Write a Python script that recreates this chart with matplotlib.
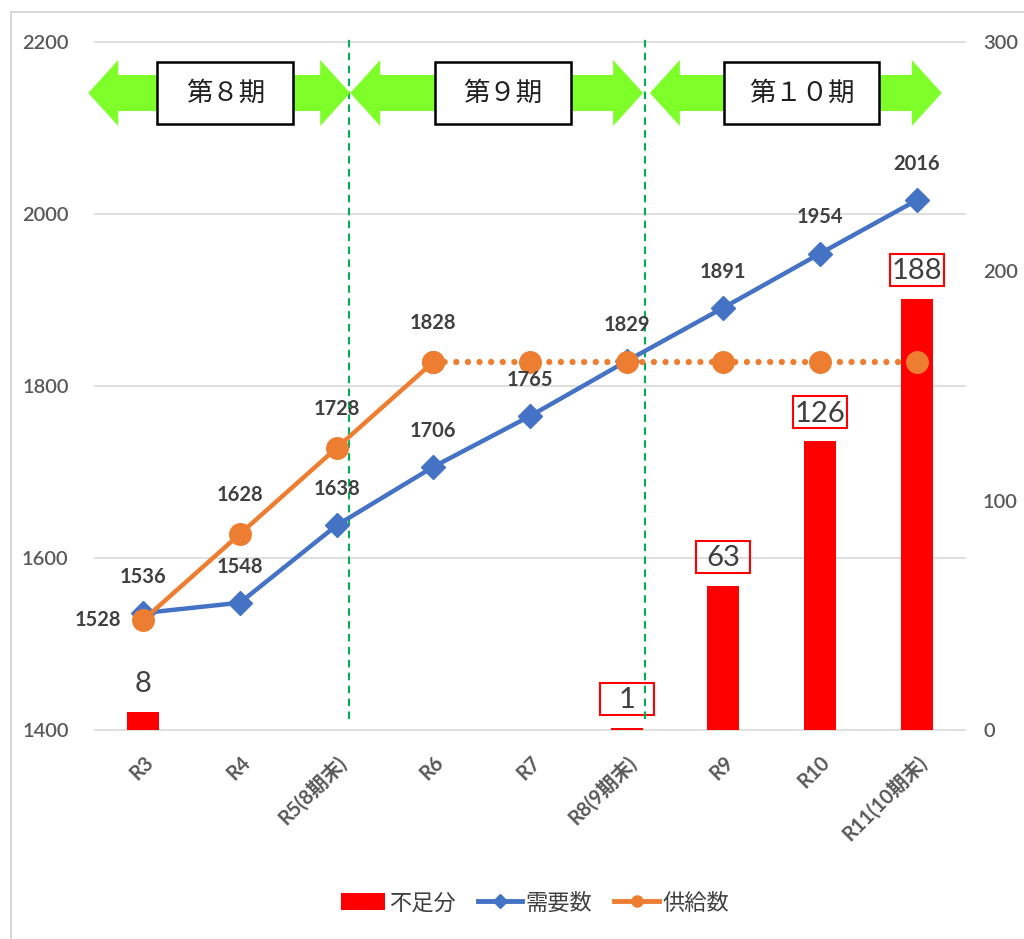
import matplotlib
matplotlib.use("Agg")
import matplotlib.pyplot as plt
import matplotlib.transforms as mtransforms
from matplotlib.patches import Polygon, Rectangle, Patch
from matplotlib.lines import Line2D

# ---- data ----
categories = ["R3", "R4", "R5(8期末)", "R6", "R7", "R8(9期末)", "R9", "R10", "R11(10期末)"]
demand = [1536, 1548, 1638, 1706, 1765, 1829, 1891, 1954, 2016]
supply = [1528, 1628, 1728, 1828, 1828, 1828, 1828, 1828, 1828]
shortage = [8, 0, 0, 0, 0, 1, 63, 126, 188]
shortage_boxed = [False, False, False, False, False, True, True, True, True]
supply_solid_n = 4          # first 4 points drawn solid, remaining dotted
supply_labeled_n = 4        # data labels on first 4 supply points
period_labels = ["第８期", "第９期", "第１０期"]
period_start = [-0.57, 2.14, 5.24]
period_end = [2.14, 5.17, 8.26]
period_dividers = [2.13, 5.19]
left_ticks = [1400, 1600, 1800, 2000, 2200]
right_ticks = [0, 100, 200, 300]

FONT = ["Lato", "Noto Sans CJK JP", "DejaVu Sans"]
CJK = ["Noto Sans CJK JP", "DejaVu Sans"]
plt.rcParams["font.family"] = FONT

BLUE = "#4472C4"
ORANGE = "#ED7D31"
RED = "#FF0000"
GREEN_ARROW = "#7FFF2A"
LABEL_C = "#404040"
TICK_C = "#595959"
GRID_C = "#D9D9D9"

W, H = 1024, 939
fig = plt.figure(figsize=(W / 100, H / 100), dpi=100)
ax = fig.add_axes([95 / W, 1 - 730 / H, 870 / W, 688 / H])
ax2 = ax.twinx()

x = list(range(len(categories)))
XMIN, XMAX = -0.5, len(categories) - 0.5

ax.set_xlim(XMIN, XMAX)
ax.set_ylim(1400, 2200)
ax.set_yticks(left_ticks)

# gridlines (primary-axis values) drawn underneath the bars
grid_tr = mtransforms.blended_transform_factory(ax2.transAxes, ax.transData)
for t in left_ticks:
    ax2.plot([0, 1], [t, t], transform=grid_tr, color=GRID_C, lw=1.2, zorder=0, clip_on=False)

# bars on secondary axis
ax2.bar(x, shortage, width=0.33, color=RED, zorder=2)
ax2.set_ylim(0, 300)
ax2.set_yticks(right_ticks)

ax.set_zorder(ax2.get_zorder() + 1)
ax.patch.set_visible(False)

# lines on primary axis
ax.plot(x, demand, color=BLUE, lw=3.2, marker="D", ms=12.5, zorder=4, solid_capstyle="round")
ax.plot(x[:supply_solid_n], supply[:supply_solid_n], color=ORANGE, lw=3.2, marker="o", ms=15.5, zorder=5)
ax.plot(x[supply_solid_n - 1:], supply[supply_solid_n - 1:], color=ORANGE, lw=4.5, ls=(0, (0.01, 1.85)),
        marker="o", ms=15.5, zorder=5, dash_capstyle="round")

for a in (ax, ax2):
    for s in a.spines.values():
        s.set_visible(False)
    a.tick_params(length=0)

ax.tick_params(axis="y", labelsize=14.5, labelcolor=TICK_C, pad=19)
ax2.tick_params(axis="y", labelsize=14.5, labelcolor=TICK_C, pad=13)
for lab in ax.get_yticklabels() + ax2.get_yticklabels():
    lab.set_fontweight("semibold")
ax.set_xticks(x)
ax.set_xticklabels(categories, rotation=45, ha="right", rotation_mode="anchor",
                   fontsize=14.5, fontweight="bold", color=TICK_C)
ax.tick_params(axis="x", pad=16)

# data labels: demand
for i, v in enumerate(demand):
    ax.annotate(str(v), (i, v), xytext=(0, 26), textcoords="offset points", ha="center", va="center",
                fontsize=14.5, fontweight="bold", color=LABEL_C, zorder=6)
# data labels: supply
for i in range(supply_labeled_n):
    v = supply[i]
    if i == 0:
        ax.annotate(str(v), (i, v), xytext=(-33, 0), textcoords="offset points", ha="center", va="center",
                    fontsize=14.5, fontweight="bold", color=LABEL_C, zorder=6)
    else:
        ax.annotate(str(v), (i, v), xytext=(0, 28), textcoords="offset points", ha="center", va="center",
                    fontsize=14.5, fontweight="bold", color=LABEL_C, zorder=6)

# data labels: shortage
for i, v in enumerate(shortage):
    if v <= 0:
        continue
    fx = (i - XMIN) / (XMAX - XMIN)
    fy = v / 300 + 30 / 688
    ax2.text(fx, fy, str(v), transform=ax2.transAxes, ha="center", va="center_baseline",
             fontsize=21, color=LABEL_C, zorder=6)
    if shortage_boxed[i]:
        bw, bh = 54 / 870, 32 / 688
        ax2.add_patch(Rectangle((fx - bw / 2, fy - bh / 2 - 1 / 688), bw, bh, transform=ax2.transAxes,
                                fill=False, edgecolor=RED, lw=1.5, zorder=7, clip_on=False))

# period divider lines
for d in period_dividers:
    ax.plot([d, d], [1413, 2205], color="#00B050", lw=1.5, ls=(0, (3.6, 2.6)), zorder=3, clip_on=False)

# period arrows and boxes
yc = (730 - 93) / 688
head_len = 30 / 870
head_h = 33 / 688
shaft_h = 18 / 688
for lab, s, e in zip(period_labels, period_start, period_end):
    x0 = (s - XMIN) / (XMAX - XMIN)
    x1 = (e - XMIN) / (XMAX - XMIN)
    pts = [(x0, yc), (x0 + head_len, yc + head_h), (x0 + head_len, yc + shaft_h),
           (x1 - head_len, yc + shaft_h), (x1 - head_len, yc + head_h), (x1, yc),
           (x1 - head_len, yc - head_h), (x1 - head_len, yc - shaft_h),
           (x0 + head_len, yc - shaft_h), (x0 + head_len, yc - head_h)]
    ax.add_patch(Polygon(pts, closed=True, transform=ax.transAxes, facecolor=GREEN_ARROW,
                         edgecolor="none", zorder=8, clip_on=False))
    xm = (x0 + x1) / 2 + 6 / 870
    bw = (155 if len(lab) > 3 else 136) / 870
    bh = 62 / 688
    ax.add_patch(Rectangle((xm - bw / 2, yc - bh / 2), bw, bh, transform=ax.transAxes,
                           facecolor="white", edgecolor="black", lw=1.8, zorder=9, clip_on=False))
    ax.text(xm, yc, lab, transform=ax.transAxes, ha="center", va="center", fontsize=19,
            family=CJK, color="#202020", zorder=10)

# legend
handles = [Patch(facecolor=RED, edgecolor="none"),
           Line2D([], [], color=BLUE, lw=3.5, marker="D", ms=7),
           Line2D([], [], color=ORANGE, lw=3.5, marker="o", ms=8)]
fig.legend(handles, ["不足分", "需要数", "供給数"], loc="center", bbox_to_anchor=(535 / W, 1 - 903 / H),
           ncol=3, frameon=False, prop={"family": CJK, "size": 16}, handlelength=2.0,
           handleheight=0.8, columnspacing=1.0, handletextpad=0.15, labelcolor="#404040")

# outer frame
fig.add_artist(Rectangle((11 / W, -0.05), 1.2, 1 - 12 / H + 0.05, transform=fig.transFigure,
                         fill=False, edgecolor="#D0D0D0", lw=1.2))

fig.savefig("out.png", dpi=100)
